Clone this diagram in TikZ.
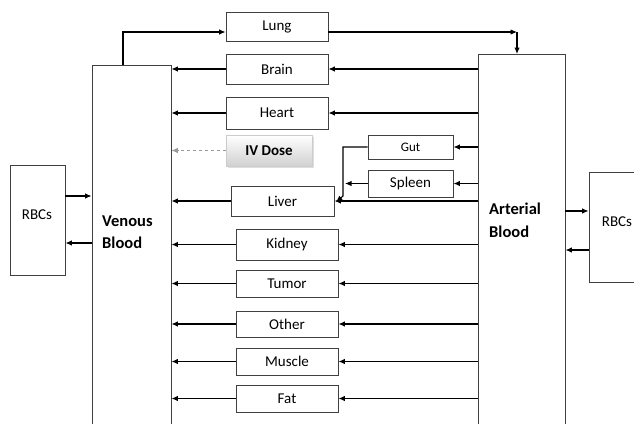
\documentclass[tikz,border=0pt]{standalone}
\usepackage{fontspec}
\setmainfont{Carlito}
\usetikzlibrary{arrows.meta,shadows}
\begin{document}
\begin{tikzpicture}[x=1pt,y=-1pt,
  box/.style={draw=black!75,line width=0.9pt,inner sep=0pt,font=\fontsize{15}{18}\selectfont},
  arr/.style={line width=1.1pt,-{Latex[length=6.5pt,width=5.5pt]}},
  lbl/.style={inner sep=0pt,font=\fontsize{16.5}{22.5}\selectfont\bfseries,align=left}]
\clip (0,0) rectangle (634,423);
\fill[white] (0,0) rectangle (634,423);
% blood compartments
\node[box,minimum width=79pt,minimum height=375pt] (venous) at (131.5,252.5) {};
\node[box,minimum width=87pt,minimum height=386pt] (arterial) at (521.5,247) {};
\node[lbl,anchor=west] (vtext) at (102,232) {Venous\\Blood};
\node[lbl,anchor=west] (atext) at (489,220.5) {Arterial\\Blood};
% RBCs
\node[box,minimum width=55pt,minimum height=110pt] (rbcL) at (37.5,220) {};
\node[inner sep=0pt,font=\fontsize{15}{18}\selectfont] (rbcLt) at (37,215) {RBCs};
\node[box,minimum width=70pt,minimum height=110pt] (rbcR) at (624,227) {};
\node[inner sep=0pt,font=\fontsize{15}{18}\selectfont] (rbcRt) at (617,222) {RBCs};
% organs
\node[box,minimum width=102pt,minimum height=29pt] (lung) at (277,26.5) {Lung};
\node[box,minimum width=102pt,minimum height=30pt] (brain) at (277,69) {Brain};
\node[box,minimum width=102pt,minimum height=32pt] (heart) at (277,113) {Heart};
\node[draw=black!20,line width=0.8pt,inner sep=0pt,minimum width=86pt,minimum height=31pt,
  top color=white,bottom color=black!18,drop shadow={opacity=0.25,shadow xshift=1.5pt,shadow yshift=-1.5pt},
  font=\fontsize{15}{18}\selectfont\bfseries] (iv) at (269,150.5) {IV Dose};
\node[box,minimum width=85pt,minimum height=24pt,font=\fontsize{13}{16}\selectfont] (gut) at (410.5,147) {Gut};
\node[box,minimum width=85pt,minimum height=27pt] (spleen) at (410.5,183.5) {Spleen};
\node[box,minimum width=103pt,minimum height=30pt] (liver) at (282.5,201) {Liver};
\node[box,minimum width=102pt,minimum height=31pt] (kidney) at (287,244.5) {Kidney};
\node[box,minimum width=102pt,minimum height=27pt] (tumor) at (287,283.5) {Tumor};
\node[box,minimum width=102pt,minimum height=26pt] (other) at (287,324) {Other};
\node[box,minimum width=102pt,minimum height=27pt] (muscle) at (287,361.5) {Muscle};
\node[box,minimum width=102pt,minimum height=27pt] (fat) at (287,398.5) {Fat};
% lung loop
\coordinate (vtop) at (123,65);
\coordinate (lcorner) at (123,32);
\draw[arr] (vtop) -- (lcorner) -- (lcorner -| lung.west);
\coordinate (acorner) at (517,32);
\coordinate (atop) at (517,54);
\draw[arr] (lung.east |- acorner) -- (acorner);
\draw[arr] (acorner) -- (atop);
% organs -> venous
\foreach \o in {brain,heart,liver,kidney,tumor,other,muscle,fat}
  \draw[arr] (\o.west) -- (\o.west -| venous.east);
\draw[line width=0.9pt,dashed,draw=black!40,-{Latex[length=6.5pt,width=5.5pt]}] (iv.west) -- (iv.west -| venous.east);
% arterial -> organs
\foreach \o in {brain,heart,gut,spleen,kidney,tumor,other,muscle,fat}
  \draw[arr] (\o.east -| arterial.west) -- (\o.east);
\draw[arr] (arterial.west |- liver.east) -- (liver.east);
% gut, spleen -> liver
\coordinate (g1) at (343,147);
\coordinate (g2) at (343,196);
\coordinate (lv) at (336,202);
\draw[arr] (gut.west) -- (g1) -- (g2) -- (lv);
\draw[arr] (spleen.west) -- (345,183.5);
% RBC exchanges
\draw[arr] (rbcL.east |- 0,196) -- (venous.west |- 0,196);
\draw[arr] (venous.west |- 0,243) -- (rbcL.east |- 0,243);
\draw[arr] (arterial.east |- 0,211) -- (rbcR.west |- 0,211);
\draw[arr] (rbcR.west |- 0,250) -- (arterial.east |- 0,250);
\end{tikzpicture}
\end{document}
